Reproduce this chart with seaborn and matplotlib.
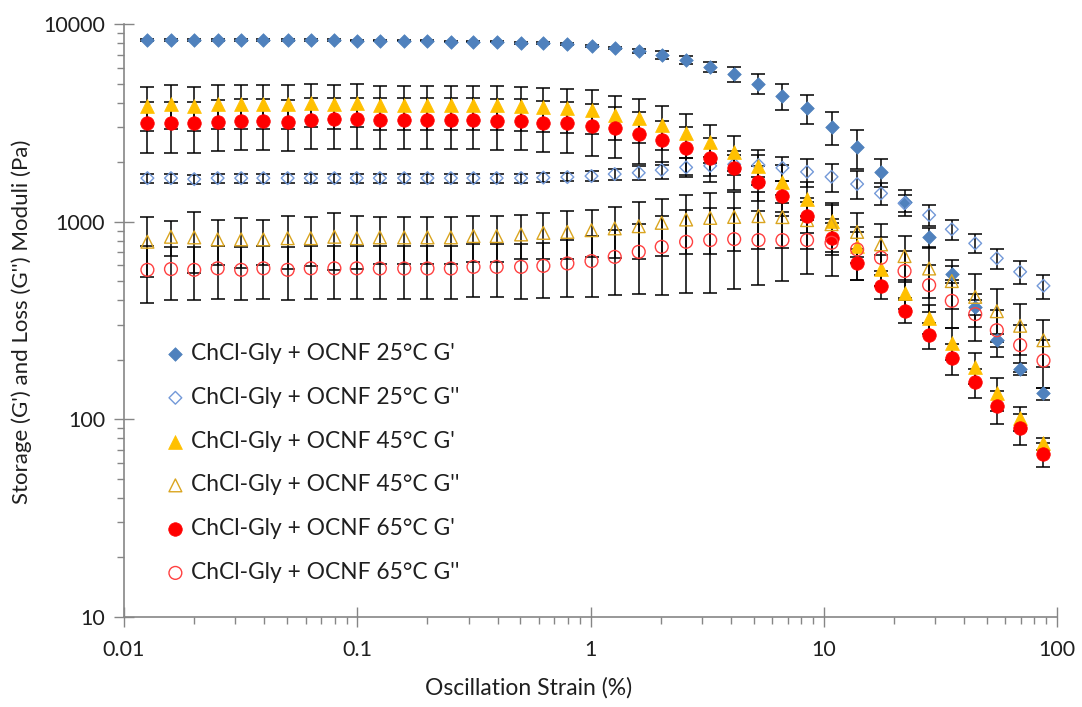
import numpy as np
import pandas as pd
import matplotlib
matplotlib.use("Agg")
import matplotlib.pyplot as plt
import seaborn as sns
from matplotlib.ticker import FixedLocator, LogLocator, NullFormatter

# Oscillation strain sweep (%)
strain = [0.0126, 0.0159, 0.0200, 0.0252, 0.0318, 0.0396, 0.0503, 0.0632, 0.0798, 0.0995,
          0.125, 0.159, 0.200, 0.252, 0.315, 0.396, 0.504, 0.628, 0.796, 1.01,
          1.27, 1.61, 2.02, 2.57, 3.26, 4.13, 5.25, 6.65, 8.48, 10.8,
          13.9, 17.6, 22.2, 28.3, 35.4, 44.6, 55.2, 69.5, 87.5]

# Moduli (Pa)
g1_25 = [8300, 8300, 8300, 8300, 8300, 8300, 8300, 8300, 8300, 8250,
         8250, 8250, 8250, 8150, 8150, 8150, 8050, 8000, 7900, 7750,
         7580, 7300, 6960, 6570, 6070, 5560, 5000, 4330, 3740, 3020,
         2380, 1790, 1260, 832, 542, 370, 251, 179, 135]
g2_25 = [1660, 1660, 1640, 1660, 1660, 1660, 1660, 1660, 1660, 1660,
         1660, 1660, 1660, 1660, 1660, 1660, 1660, 1670, 1680, 1700,
         1740, 1766, 1822, 1881, 1916, 1948, 1932, 1871, 1786, 1686,
         1549, 1389, 1237, 1079, 914, 776, 652, 557, 473]
g1_45 = [3850, 3940, 3850, 3940, 3940, 3940, 3940, 4000, 3940, 4000,
         3900, 3900, 3900, 3900, 3900, 3900, 3850, 3800, 3760, 3690,
         3460, 3330, 3080, 2810, 2540, 2250, 1920, 1590, 1300, 1010,
         752, 573, 433, 324, 244, 184, 136, 101, 75.4]
g2_45 = [791, 838, 832, 813, 813, 813, 824, 824, 838, 824,
         832, 832, 832, 832, 845, 845, 861, 877, 887, 905,
         924, 948, 986, 1025, 1044, 1056, 1066, 1054, 1018, 971,
         887, 767, 669, 579, 500, 416, 352, 297, 251]
g1_65 = [3140, 3140, 3140, 3200, 3230, 3230, 3200, 3270, 3290, 3290,
         3270, 3270, 3270, 3270, 3270, 3230, 3230, 3160, 3140, 3040,
         2960, 2770, 2590, 2370, 2110, 1860, 1590, 1340, 1070, 830,
         619, 472, 354, 267, 203, 154, 117, 89.8, 66.5]
g2_65 = [570, 575, 570, 580, 570, 580, 570, 580, 580, 580,
         579, 579, 579, 579, 590, 590, 590, 597, 614, 631,
         663, 703, 745, 790, 806, 815, 806, 806, 806, 781,
         723, 656, 562, 477, 397, 340, 282, 237, 198]

# Standard deviation, % of the mean
e1_25 = [1] * 20 + [1.5, 2.5, 4.5, 5, 6, 9, 12, 15, 17, 19,
                    22, 16, 15, 12, 10, 9, 8, 7, 7]
e2_25 = [5] * 19 + [6, 6.5, 8, 10, 11, 11, 12, 13, 14, 16,
                    16, 16, 12.5, 10, 12, 11.5, 11, 11.5, 13, 14]
e1_45 = [25] * 24 + [22, 20, 20, 22, 22, 20, 18, 18, 17, 17, 18, 18, 19, 14, 7]
e2_45 = [34, 20, 34, 26, 28, 26, 30, 28, 32, 30,
         27, 27, 27, 27, 26, 26, 25, 26, 27, 27,
         29, 32, 32, 33, 34, 33, 32, 30, 29, 28,
         25, 27, 26, 29, 28, 30, 30, 29, 27]
e1_65 = [29] * 22 + [25, 27, 25, 22, 20, 20, 18, 18, 18, 14, 13, 15, 18, 17, 19, 18, 14]
e2_65 = [32, 30, 30, 30, 30, 30, 30, 30, 30, 30,
         30, 30, 30, 30, 30, 30, 31, 31, 32, 34,
         36, 39, 43, 45, 46, 44, 41, 38, 33, 32,
         30, 28, 27, 27, 27, 27, 27, 27, 27]

labels = ["ChCl-Gly + OCNF 25°C G'", "ChCl-Gly + OCNF 25°C G''",
          "ChCl-Gly + OCNF 45°C G'", "ChCl-Gly + OCNF 45°C G''",
          "ChCl-Gly + OCNF 65°C G'", "ChCl-Gly + OCNF 65°C G''"]

x_ticks = [0.01, 0.1, 1, 10, 100]
x_tick_labels = ["0.01", "0.1", "1", "10", "100"]
y_ticks = [10, 100, 1000, 10000]
y_tick_labels = ["10", "100", "1000", "10000"]

sns.set_theme(style="ticks")
plt.rcParams['font.family'] = ['Lato', 'DejaVu Sans']

W, H = 1082, 707
fig = plt.figure(figsize=(W / 100, H / 100), dpi=100)
ax = fig.add_axes([0.1146, 0.1277, 0.8623, 0.8383])

series = [
    (g1_25, e1_25, dict(marker="D", s=48, facecolor="#4F81BD", edgecolor="#4F81BD", linewidth=0.5)),
    (g2_25, e2_25, dict(marker="D", s=42, facecolor="none", edgecolor="#7399D8", linewidth=1.0)),
    (g1_45, e1_45, dict(marker="^", s=100, facecolor="#FFC000", edgecolor="#FFC000", linewidth=0.5)),
    (g2_45, e2_45, dict(marker="^", s=85, facecolor="none", edgecolor="#DAA520", linewidth=1.0)),
    (g1_65, e1_65, dict(marker="o", s=95, facecolor="#FF0000", edgecolor="#FF0000", linewidth=0.5)),
    (g2_65, e2_65, dict(marker="o", s=85, facecolor="none", edgecolor="#FF4040", linewidth=1.0)),
]

# error bars sit underneath the markers
for vals, err, _ in series:
    v = np.asarray(vals, dtype=float)
    yerr = v * np.asarray(err, dtype=float) / 100.0
    ax.errorbar(strain, v, yerr=yerr, fmt="none", ecolor="black",
                elinewidth=1.1, capsize=4.8, capthick=1.1, zorder=2)

for (vals, _, style), lab in zip(series, labels):
    df = pd.DataFrame({"strain": strain, "modulus": vals})
    sns.scatterplot(data=df, x="strain", y="modulus", ax=ax, label=lab,
                    zorder=3, **style)

ax.set_xscale("log")
ax.set_yscale("log")
ax.set_xlim(0.01, 100)
ax.set_ylim(10, 10000)

ax.xaxis.set_major_locator(FixedLocator(x_ticks))
ax.set_xticklabels(x_tick_labels)
ax.yaxis.set_major_locator(FixedLocator(y_ticks))
ax.set_yticklabels(y_tick_labels)
ax.xaxis.set_minor_locator(LogLocator(base=10, subs=np.arange(2, 10)))
ax.yaxis.set_minor_locator(LogLocator(base=10, subs=np.arange(2, 10)))
ax.xaxis.set_minor_formatter(NullFormatter())
ax.yaxis.set_minor_formatter(NullFormatter())

axis_grey = "#868686"
text_col = "#1f1f1f"
ax.tick_params(which="major", direction="inout", length=15, width=1.0,
               color=axis_grey, labelsize=15.5, labelcolor=text_col)
ax.tick_params(axis="x", which="major", pad=9)
ax.tick_params(axis="y", which="major", pad=6)
ax.tick_params(which="minor", direction="out", length=5, width=1.0, color=axis_grey)

for side in ["top", "right"]:
    ax.spines[side].set_visible(False)
for side in ["left", "bottom"]:
    ax.spines[side].set_color(axis_grey)
    ax.spines[side].set_linewidth(1.2)

ax.set_xlabel("")
ax.set_ylabel("")
fig.text(529 / W, 1 - 688 / H, "Oscillation Strain (%)", fontsize=16.5,
         color=text_col, ha="center", va="center")
fig.text(22 / W, 1 - 322 / H, "Storage (G') and Loss (G'') Moduli (Pa)",
         fontsize=16, color=text_col, ha="center", va="center", rotation=90)

leg = ax.legend(loc="upper left", bbox_to_anchor=(164 / W, 1 - 343 / H),
                bbox_transform=fig.transFigure, frameon=False, fontsize=16.4,
                labelspacing=1.0, handletextpad=0.2, handlelength=1.0,
                borderpad=0, borderaxespad=0)
for t in leg.get_texts():
    t.set_color(text_col)

fig.savefig("out.png", dpi=100)
